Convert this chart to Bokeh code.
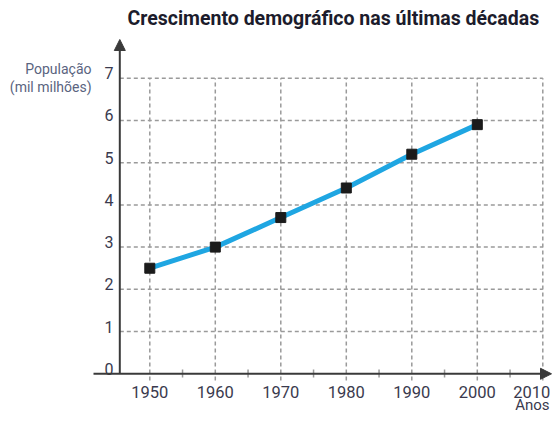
from bokeh.plotting import figure
from bokeh.models import Range1d, Label, Arrow, NormalHead, ColumnDataSource
from bokeh.core.properties import value
from bokeh.embed import file_html
from bokeh.resources import INLINE

# ---- data ----
years = [1950, 1960, 1970, 1980, 1990, 2000]
population = [2.5, 3.0, 3.7, 4.4, 5.2, 5.9]
x_ticks = [1950, 1960, 1970, 1980, 1990, 2000, 2010]
x_tick_labels = ["1950", "1960", "1970", "1980", "1990", "2000", "2010"]
x_minor = [1955, 1965, 1975, 1985, 1995, 2005]
y_ticks = [0, 1, 2, 3, 4, 5, 6, 7]
y_tick_labels = ["0", "1", "2", "3", "4", "5", "6", "7"]
title_text = "Crescimento demográfico nas últimas décadas"
y_title = ["População", "(mil milhões)"]
x_title = "Anos"

# ---- layout (screen px -> data) ----
W, H = 552, 413
SX = 393 / 60.0          # px per year
SY = 295.6 / 7.0         # px per unit
X0 = 1950 - 149.3 / SX
X1 = X0 + W / SX
Y1 = 373.3 / SY
Y0 = Y1 - H / SY

def X(px):
    return X0 + px / SX

def Y(py):
    return Y1 - py / SY

FONT = "Roboto"
AXIS_COLOR = "#3a3a3a"
GRID_COLOR = "#9a9a9a"
TEXT_COLOR = "#3a3a4e"

p = figure(width=W, height=H, x_range=Range1d(X0, X1), y_range=Range1d(Y0, Y1),
           output_backend="svg", toolbar_location=None,
           x_axis_type=None, y_axis_type=None, min_border=0)
p.outline_line_color = None
p.grid.visible = False
p.background_fill_color = "white"
p.border_fill_color = "white"

AX = X(119.3)  # position of the vertical axis

# horizontal dashed grid
gy = y_ticks[1:]
p.segment(x0=[AX] * len(gy), y0=gy, x1=[x_ticks[-1]] * len(gy), y1=gy,
          line_color=GRID_COLOR, line_width=1.5, line_dash="4 3")
# vertical dashed grid
p.segment(x0=x_ticks, y0=[Y(380)] * len(x_ticks), x1=x_ticks, y1=[y_ticks[-1]] * len(x_ticks),
          line_color=GRID_COLOR, line_width=1.5, line_dash="4 3")
# minor ticks
p.segment(x0=x_minor, y0=[Y(369)] * len(x_minor), x1=x_minor, y1=[Y(377)] * len(x_minor),
          line_color=GRID_COLOR, line_width=1.5)

# axes with arrows
p.add_layout(Arrow(end=NormalHead(size=11, fill_color=AXIS_COLOR, line_color=AXIS_COLOR),
                   x_start=X(93), y_start=0, x_end=X(551), y_end=0,
                   line_color=AXIS_COLOR, line_width=2))
p.add_layout(Arrow(end=NormalHead(size=11, fill_color=AXIS_COLOR, line_color=AXIS_COLOR),
                   x_start=AX, y_start=0, x_end=AX, y_end=Y(39),
                   line_color=AXIS_COLOR, line_width=2))

# data line + markers
src = ColumnDataSource(dict(x=years, y=population))
p.line("x", "y", source=src, line_color="#1fa6e2", line_width=5, line_join="round")
p.scatter("x", "y", source=src, marker="square", size=10,
          fill_color="#1b1b1b", line_color="#1b1b1b")

# tick labels
xs = ColumnDataSource(dict(x=x_ticks, y=[0] * len(x_ticks), t=x_tick_labels,
                           dx=[0] * (len(x_ticks) - 1) + [-11]))
p.text(x="x", y="y", text="t", source=xs, x_offset="dx", y_offset=18,
       text_align="center", text_baseline="middle", text_font=value(FONT),
       text_font_size="16.5px", text_color=TEXT_COLOR)
ys = ColumnDataSource(dict(x=[X(113)] * len(y_ticks), y=y_ticks, t=y_tick_labels))
p.text(x="x", y="y", text="t", source=ys, y_offset=-5,
       text_align="right", text_baseline="alphabetic", text_font=value(FONT),
       text_font_size="16px", text_color=TEXT_COLOR)

# titles
p.add_layout(Label(x=X(127), y=Y(18), text=title_text, text_font=FONT,
                   text_font_size="19.5px", text_font_style="bold",
                   text_color="#1c1c2c", text_align="left", text_baseline="middle"))
p.add_layout(Label(x=X(91), y=Y(68), text=y_title[0], text_font=FONT,
                   text_font_size="14px", text_color="#5a6480",
                   text_align="right", text_baseline="middle"))
p.add_layout(Label(x=X(91), y=Y(86), text=y_title[1], text_font=FONT,
                   text_font_size="14px", text_color="#5a6480",
                   text_align="right", text_baseline="middle"))
p.add_layout(Label(x=X(549), y=Y(404), text=x_title, text_font=FONT,
                   text_font_size="15px", text_color=TEXT_COLOR,
                   text_align="right", text_baseline="middle"))

open("out.html", "w").write(file_html(p, INLINE))
